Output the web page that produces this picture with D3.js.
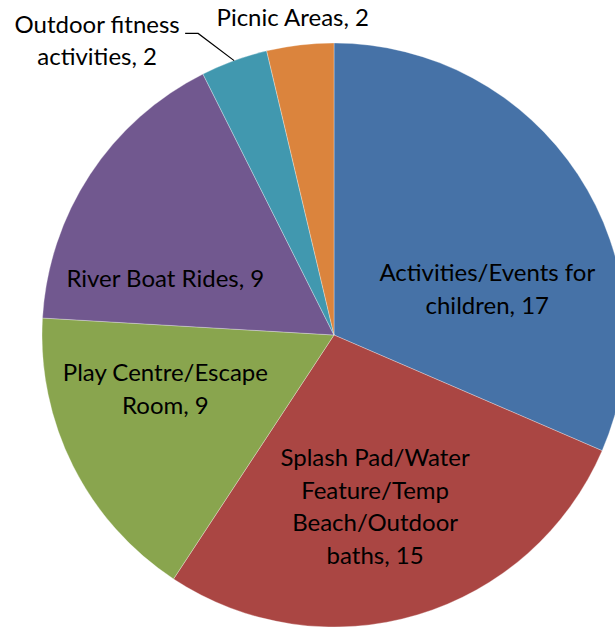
<!DOCTYPE html>
<html>
<head>
<meta charset="utf-8">
<script src="https://cdn.jsdelivr.net/npm/d3@7"></script>
<style>
  body { margin: 0; background: #fff; }
  svg { display: block; }
</style>
</head>
<body>
<div class="pieChart"></div>
<script>
// chart data
let categories = [
  'Activities/Events for children',
  'Splash Pad/Water Feature/Temp Beach/Outdoor baths',
  'Play Centre/Escape Room',
  'River Boat Rides',
  'Outdoor fitness activities',
  'Picnic Areas'
];
let values = [17, 15, 9, 9, 2, 2];

// label text broken into lines the way the original wraps them
let labelLines = [
  ['Activities/Events for', 'children, 17'],
  ['Splash Pad/Water', 'Feature/Temp', 'Beach/Outdoor', 'baths, 15'],
  ['Play Centre/Escape', 'Room, 9'],
  ['River Boat Rides, 9'],
  ['Outdoor fitness', 'activities, 2'],
  ['Picnic Areas, 2']
];

let colors = ['#4672A7', '#AA4643', '#89A54E', '#71588F', '#4198AF', '#DB843D'];

function drawPieChart(d3) {
  let width = 615;
  let height = 627;
  let cx = 334;
  let cy = 335;
  let radius = 292;

  // label placement: angle (deg, clockwise from top) and distance from centre
  let labelLayout = [
    { angle: 73.3, r: 160, leader: false },
    { angle: 166.5, r: 176, leader: false },
    { angle: 252.3, r: 177, leader: false },
    { angle: 288.6, r: 178, leader: false },
    { angle: 321.2, r: 378, leader: true },
    { angle: 352.6, r: 320, leader: false }
  ];

  let data = categories.map(function(c, i) {
    return { name: c, value: values[i], lines: labelLines[i], color: colors[i], layout: labelLayout[i] };
  });

  let container = d3.select('.pieChart')
    .append('svg')
    .attr('width', width)
    .attr('height', height)
    .attr('viewBox', '0 0 ' + width + ' ' + height);

  let g = container.append('g')
    .attr('transform', 'translate(' + cx + ',' + cy + ')');

  let pie = d3.pie()
    .sort(null)
    .value(function(d) { return d.value; });

  let arc = d3.arc()
    .innerRadius(0)
    .outerRadius(radius);

  let arcs = pie(data);

  g.selectAll('.slice')
    .data(arcs)
    .enter().append('path')
    .attr('class', 'slice')
    .attr('d', arc)
    .attr('fill', function(d) { return d.data.color; })
    .attr('stroke', '#ffffff')
    .attr('stroke-opacity', 0.5)
    .attr('stroke-width', 0.6);

  function polar(angleDeg, r) {
    let a = angleDeg * Math.PI / 180;
    return [r * Math.sin(a), -r * Math.cos(a)];
  }

  let lineHeight = 32.5;

  // leader line for the outside label
  arcs.forEach(function(d) {
    if (!d.data.layout.leader) return;
    let mid = (d.startAngle + d.endAngle) / 2;
    let edge = [radius * Math.sin(mid), -radius * Math.cos(mid)];
    let lp = polar(d.data.layout.angle, d.data.layout.r);
    let bendY = lp[1] - 7;
    let bendX = lp[0] + 101;
    g.append('polyline')
      .attr('points', [[lp[0] + 88, bendY], [bendX, bendY], edge].map(function(p) { return p.join(','); }).join(' '))
      .attr('fill', 'none')
      .attr('stroke', '#000')
      .attr('stroke-width', 1.2);
  });

  let labels = g.selectAll('.label')
    .data(arcs)
    .enter().append('text')
    .attr('class', 'label')
    .attr('text-anchor', 'middle')
    .attr('font-family', 'Lato, "Open Sans", sans-serif')
    .attr('font-size', 24)
    .attr('fill', '#000')
    .attr('transform', function(d) {
      let p = polar(d.data.layout.angle, d.data.layout.r);
      return 'translate(' + p[0] + ',' + p[1] + ')';
    });

  labels.each(function(d) {
    let n = d.data.lines.length;
    let t = d3.select(this);
    d.data.lines.forEach(function(line, i) {
      t.append('tspan')
        .attr('x', 0)
        .attr('y', (i - (n - 1) / 2) * lineHeight)
        .attr('dy', '0.36em')
        .text(line);
    });
  });
}

drawPieChart(d3);
</script>
</body>
</html>
